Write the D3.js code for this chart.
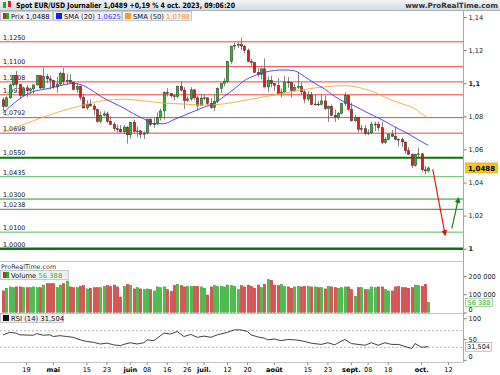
<!DOCTYPE html>
<html>
<head>
<meta charset="utf-8">
<script src="https://cdn.jsdelivr.net/npm/d3@7"></script>
<style>
  body { margin: 0; background: #fff; }
  svg { display: block; font-family: "DejaVu Sans", sans-serif; }
</style>
</head>
<body>
<div id="chart"></div>
<script>
// ---- data (EUR/USD daily) ----
var opens = [1.0900,1.0860,1.0912,1.0990,1.1047,1.0993,1.0926,1.0972,1.0955,1.0966,
  1.0990,1.1046,1.0971,1.1040,1.1026,1.1017,1.0977,1.0995,1.1060,1.1013,
  1.1018,1.1005,1.0961,1.0982,1.0915,1.0850,1.0873,1.0862,1.0841,1.0769,
  1.0805,1.0815,1.0770,1.0750,1.0725,1.0722,1.0706,1.0735,1.0688,1.0764,
  1.0708,1.0712,1.0691,1.0699,1.0782,1.0749,1.0758,1.0793,1.0832,1.0943,
  1.0938,1.0924,1.0919,1.0982,1.0958,1.0895,1.0905,1.0960,1.0912,1.0866,
  1.0910,1.0912,1.0878,1.0853,1.0890,1.0968,1.0999,1.1011,1.1130,1.1224,
  1.1228,1.1235,1.1224,1.1199,1.1131,1.1125,1.1065,1.1053,1.1087,1.0977,
  1.1017,1.0998,1.0986,1.0937,1.0947,1.1007,1.1004,1.0956,1.0975,1.0980,
  1.0948,1.0904,1.0929,1.0871,1.0874,1.0872,1.0893,1.0846,1.0861,1.0806,
  1.0795,1.0817,1.0877,1.0925,1.0842,1.0772,1.0794,1.0721,1.0725,1.0698,
  1.0700,1.0752,1.0753,1.0731,1.0641,1.0660,1.0692,1.0678,1.0661,1.0659,
  1.0645,1.0592,1.0570,1.0503,1.0569,1.0573,1.0477,1.0470];
var highs = [1.0915,1.0922,1.0998,1.1050,1.1075,1.0995,1.0979,1.0988,1.0974,1.0991,
  1.1050,1.1050,1.1095,1.1056,1.1046,1.1020,1.1040,1.1071,1.1092,1.1055,
  1.1055,1.1010,1.1000,1.0985,1.0933,1.0897,1.0903,1.0875,1.0847,1.0829,
  1.0831,1.0828,1.0800,1.0765,1.0750,1.0747,1.0747,1.0738,1.0763,1.0780,
  1.0737,1.0717,1.0709,1.0787,1.0788,1.0790,1.0823,1.0845,1.0951,1.0970,
  1.0940,1.0934,1.0985,1.1012,1.0976,1.0920,1.0976,1.0965,1.0926,1.0934,
  1.0935,1.0913,1.0911,1.0933,1.0975,1.1003,1.1030,1.1135,1.1226,1.1245,
  1.1248,1.1276,1.1231,1.1210,1.1148,1.1128,1.1090,1.1090,1.1150,1.1041,
  1.1045,1.1002,1.1030,1.0968,1.1043,1.1038,1.1007,1.0995,1.1063,1.1003,
  1.0960,1.0952,1.0947,1.0932,1.0894,1.0932,1.0925,1.0865,1.0871,1.0840,
  1.0828,1.0882,1.0945,1.0926,1.0882,1.0810,1.0797,1.0748,1.0746,1.0722,
  1.0767,1.0768,1.0768,1.0768,1.0675,1.0699,1.0718,1.0737,1.0668,1.0671,
  1.0645,1.0615,1.0575,1.0573,1.0610,1.0577,1.0500,1.0497];
var lows = [1.0831,1.0855,1.0904,1.0980,1.0965,1.0910,1.0918,1.0916,1.0935,1.0936,
  1.0985,1.0965,1.0965,1.1000,1.0962,1.0967,1.0942,1.0985,1.0990,1.0990,
  1.1000,1.0956,1.0942,1.0897,1.0849,1.0840,1.0860,1.0806,1.0761,1.0759,
  1.0799,1.0761,1.0746,1.0709,1.0701,1.0702,1.0693,1.0635,1.0665,1.0701,
  1.0676,1.0667,1.0663,1.0692,1.0740,1.0731,1.0749,1.0774,1.0780,1.0920,
  1.0911,1.0896,1.0910,1.0951,1.0844,1.0886,1.0895,1.0899,1.0835,1.0865,
  1.0896,1.0869,1.0845,1.0833,1.0880,1.0940,1.0980,1.1000,1.1117,1.1202,
  1.1212,1.1201,1.1181,1.1128,1.1100,1.1063,1.1035,1.1023,1.0974,1.0945,
  1.0976,1.0954,1.0934,1.0915,1.0942,1.0973,1.0913,1.0949,1.0964,1.0930,
  1.0879,1.0893,1.0868,1.0867,1.0862,1.0866,1.0837,1.0766,1.0801,1.0766,
  1.0780,1.0812,1.0862,1.0834,1.0771,1.0768,1.0705,1.0702,1.0686,1.0686,
  1.0693,1.0710,1.0710,1.0631,1.0632,1.0659,1.0675,1.0655,1.0616,1.0615,
  1.0573,1.0566,1.0488,1.0496,1.0550,1.0466,1.0449,1.0460];
var closes = [1.0860,1.0912,1.0990,1.1047,1.0993,1.0926,1.0972,1.0955,1.0966,1.0990,
  1.1046,1.0971,1.1040,1.1026,1.1017,1.0977,1.0995,1.1060,1.1013,1.1018,
  1.1005,1.0961,1.0982,1.0915,1.0850,1.0873,1.0862,1.0841,1.0769,1.0805,
  1.0815,1.0770,1.0750,1.0725,1.0722,1.0706,1.0735,1.0688,1.0764,1.0708,
  1.0712,1.0691,1.0699,1.0782,1.0749,1.0758,1.0793,1.0832,1.0943,1.0938,
  1.0924,1.0919,1.0982,1.0958,1.0895,1.0905,1.0960,1.0912,1.0866,1.0910,
  1.0912,1.0878,1.0853,1.0890,1.0968,1.0999,1.1011,1.1130,1.1224,1.1228,
  1.1235,1.1224,1.1199,1.1131,1.1125,1.1065,1.1053,1.1087,1.0977,1.1017,
  1.0998,1.0986,1.0937,1.0947,1.1007,1.1004,1.0956,1.0975,1.0980,1.0948,
  1.0904,1.0929,1.0871,1.0874,1.0872,1.0893,1.0846,1.0861,1.0806,1.0795,
  1.0817,1.0877,1.0925,1.0842,1.0772,1.0794,1.0721,1.0725,1.0698,1.0700,
  1.0752,1.0753,1.0731,1.0641,1.0660,1.0692,1.0678,1.0661,1.0659,1.0645,
  1.0592,1.0570,1.0503,1.0569,1.0573,1.0477,1.0470,1.0488];
var volumes = [118,133,140,136,140,140,136,136,136,140,
  136,136,150,158,158,158,136,150,158,172,
  140,136,136,143,147,129,133,136,136,136,
  143,147,143,150,140,85,143,154,150,129,
  136,129,125,129,125,118,140,136,140,125,
  115,147,154,147,140,143,143,143,143,140,
  133,96,140,147,143,143,140,150,147,143,
  125,147,140,150,143,133,150,136,154,180,
  176,150,147,154,143,140,133,140,143,140,
  143,143,140,140,136,136,129,143,140,136,
  133,136,140,140,125,89,136,136,125,125,
  140,136,140,140,125,118,118,140,143,136,
  136,133,136,150,147,143,154,56].map(function (v) { return v * 1000; });

// moving averages, sampled along the curve (candle index -> value)
var sma20Days = [0,3,6,9,12,15,18,21,24,27,30,33,36,39,42,45,48,51,54,57,60,63,66,69,72,75,78,81,84,87,90,93,96,99,102,105,108,111,114,117,120,123,126,127];
var sma20 = [1.0820,1.0875,1.0920,1.0950,1.0962,1.0975,1.0990,1.0999,1.0985,1.0950,1.0910,1.0880,1.0850,1.0815,1.0785,1.0755,1.0755,1.0780,1.0805,1.0830,1.0855,1.0878,1.0920,1.0965,1.1015,1.1045,1.1065,1.1077,1.1080,1.1075,1.1040,1.1000,1.0965,1.0920,1.0885,1.0862,1.0830,1.0800,1.0770,1.0735,1.0705,1.0670,1.0635,1.0625];
var sma50Days = [0,6,12,18,24,30,36,42,48,54,60,66,72,78,84,90,96,102,108,111,114,117,120,123,125,127];
var sma50 = [1.0705,1.0750,1.0795,1.0835,1.0868,1.0895,1.0903,1.0893,1.0880,1.0874,1.0868,1.0875,1.0895,1.0918,1.0940,1.0962,1.0978,1.0985,1.0965,1.0945,1.0915,1.0890,1.0870,1.0845,1.0815,1.0788];

var rsiDays = [0,2,4,5,9,10,12,14,15,17,19,21,23,25,27,29,31,33,35,36,38,40,42,43,45,48,50,52,54,56,58,60,62,64,67,69,71,73,74,76,78,79,81,83,85,87,89,92,95,97,99,102,104,106,108,110,112,114,116,118,120,122,123,125,127];
var rsi = [60,66,64,60,59,63,59,60,56,58,56,54,48,44,42,38,40,36,34,37,41,38,41,48,46,64,62,68,56,61,54,57,54,60,66,72,72,68,60,55,52,48,50,46,49,48,46,40,37,41,36,49,39,37,35,41,35,41,37,37,32,27,39,30,31.5];

// support / resistance levels drawn on the chart
var levels = [1.1250,1.1100,1.1008,1.0930,1.0792,1.0698,1.0550,1.0435,1.0300,1.0238,1.0100,1.0000];

// projection arrows: [start index, start price, end index, end price]
var arrowDown = [128.3, 1.0480, 132.0, 1.0083];
var arrowUp = [134.0, 1.0123, 136.0, 1.0305];

var priceTicks = [1, 1.02, 1.04, 1.06, 1.08, 1.1, 1.12, 1.14];
var volTicks = [0, 100000, 200000];
var rsiTicks = [0, 50, 100];
var tickDates = ["2023-04-19","2023-05-01","2023-05-15","2023-05-23","2023-06-01","2023-06-08","2023-06-16","2023-06-26","2023-07-03","2023-07-12","2023-07-20","2023-08-01","2023-08-15","2023-08-23","2023-09-01","2023-09-08","2023-09-18","2023-10-02","2023-10-12"];
var tickLabels = ["19","mai","15","23","juin","08","16","26","juil.","12","20","août","15","23","sept.","08","18","oct.","12"];

var lastPrice = 1.0488, lastVol = 56388, lastRsi = 31.504;

// ---- layout ----
var W = 500, H = 375, axisX = 463.5;
var fmtDay = d3.timeFormat("%Y-%m-%d");
var days = d3.timeDay.range(new Date(2023, 3, 10), new Date(2023, 9, 14))
  .filter(function (d) { return d.getDay() % 6 !== 0; });
var dayIndex = function (s) { return days.findIndex(function (d) { return fmtDay(d) === s; }); };

var x = d3.scaleLinear().domain([0, 127]).range([3.1, 428.4]);
var y = d3.scaleLinear().domain([1, 1.14]).range([248.7, 17]);
var yVol = d3.scaleLinear().domain([0, 200000]).range([312.5, 275.9]);
var yRsi = d3.scaleLinear().domain([0, 100]).range([359.8, 318.2]);
var comma = function (v, n) { return d3.format("." + n + "f")(v).replace(".", ","); };
var spaced = function (v) { return d3.format(",")(v).replace(/,/g, " "); };

var svg = d3.select("#chart").append("svg").attr("width", W).attr("height", H);
var defs = svg.append("defs");
var hg = defs.append("linearGradient").attr("id", "hdr").attr("x1", 0).attr("y1", 0).attr("x2", 0).attr("y2", 1);
hg.append("stop").attr("offset", "0%").attr("stop-color", "#f3f5f7");
hg.append("stop").attr("offset", "100%").attr("stop-color", "#d5dadf");
defs.append("clipPath").attr("id", "plot").append("rect").attr("x", 0).attr("y", 22).attr("width", axisX).attr("height", 240);
["red", "green"].forEach(function (c) {
  defs.append("marker").attr("id", "arr-" + c).attr("viewBox", "0 0 10 10").attr("refX", 8).attr("refY", 5)
    .attr("markerWidth", 5).attr("markerHeight", 5).attr("orient", "auto")
    .append("path").attr("d", "M0,0L10,5L0,10z").attr("fill", c === "red" ? "#ee1111" : "#118811");
});

// header
svg.append("rect").attr("width", W).attr("height", 10.5).attr("fill", "url(#hdr)");
svg.append("line").attr("x1", 0).attr("x2", W).attr("y1", 10.5).attr("y2", 10.5).attr("stroke", "#a8b0b8");
svg.append("rect").attr("x", 3).attr("y", 2).attr("width", 3).attr("height", 6).attr("fill", "#22aa22");
svg.append("rect").attr("x", 8).attr("y", 1).attr("width", 3).attr("height", 6).attr("fill", "#dd2222");
svg.append("text").attr("x", 16).attr("y", 8.3).attr("font-size", 7.4).attr("font-weight", "bold")
  .attr("textLength", 219).attr("lengthAdjust", "spacingAndGlyphs")
  .text("Spot EUR/USD Journalier 1,0489 +0,19 % 4 oct. 2023, 09:06:20");
svg.append("text").attr("x", 498).attr("y", 8.3).attr("text-anchor", "end").attr("font-size", 7.2)
  .attr("font-weight", "bold").attr("fill", "#333").text("www.ProRealTime.com");

// legend boxes
function legendBox(x0, w, yTop, icon, parts) {
  var g = svg.append("g");
  g.append("rect").attr("x", x0 + 0.5).attr("y", yTop + 0.5).attr("width", w).attr("height", 9)
    .attr("fill", "#eef0f2").attr("stroke", "#b8bec4").attr("stroke-width", 0.8);
  icon(g, x0 + 3, yTop + 2);
  var t = g.append("text").attr("x", x0 + 11).attr("y", yTop + 7.7).attr("font-size", 6.8);
  parts.forEach(function (p) { t.append("tspan").attr("fill", p[1]).text(p[0]); });
}
function twoColor(g, x0, y0) {
  g.append("rect").attr("x", x0).attr("y", y0).attr("width", 3).attr("height", 6).attr("fill", "#dd2222");
  g.append("rect").attr("x", x0 + 3).attr("y", y0).attr("width", 3).attr("height", 6).attr("fill", "#22aa22");
}
function square(c) {
  return function (g, x0, y0) { g.append("rect").attr("x", x0).attr("y", y0).attr("width", 6).attr("height", 6).attr("fill", c); };
}
legendBox(0, 52, 11, twoColor, [["Prix ", "#111"], [comma(lastPrice, 4), "#111"]]);
legendBox(53, 68, 11, square("#1a1aff"), [["SMA (20) ", "#111"], [comma(sma20[sma20.length - 1], 4), "#3333ff"]]);
legendBox(122, 69, 11, square("#f5a020"), [["SMA (50) ", "#111"], [comma(sma50[sma50.length - 1], 4), "#f0a030"]]);

// price panel
var plot = svg.append("g").attr("clip-path", "url(#plot)");
function levelColor(v) {
  if (v > 1.06) return "#ee4444";
  if (v === 1.055 || v === 1) return "#0c760c";
  if (v === 1.0435 || v === 1.01) return "#5cb85c";
  return "#2e8b2e";
}
function levelWidth(v) { return v === 1 ? 2.6 : v === 1.055 ? 2 : 1; }

plot.selectAll(".lvl-label").data(levels).enter().append("text")
  .attr("x", 3).attr("y", function (d) { return y(d) - 2.2; })
  .attr("font-size", 6.4).attr("fill", "#111")
  .text(function (d) { return comma(d, 4); });
plot.selectAll(".lvl").data(levels).enter().append("line")
  .attr("x1", 0).attr("x2", axisX).attr("y1", function (d) { return y(d); }).attr("y2", function (d) { return y(d); })
  .attr("stroke", levelColor).attr("stroke-width", levelWidth);

var idx = d3.range(closes.length);
plot.selectAll(".wick").data(idx).enter().append("line")
  .attr("x1", function (i) { return Math.round(x(i)) + 0.5; }).attr("x2", function (i) { return Math.round(x(i)) + 0.5; })
  .attr("y1", function (i) { return y(highs[i]); }).attr("y2", function (i) { return y(lows[i]); })
  .attr("stroke", "#666").attr("stroke-width", 0.8);
plot.selectAll(".body").data(idx).enter().append("rect")
  .attr("x", function (i) { return Math.round(x(i)) - 0.7; }).attr("width", 2.4)
  .attr("y", function (i) { return y(Math.max(opens[i], closes[i])); })
  .attr("height", function (i) { return Math.max(0.8, Math.abs(y(opens[i]) - y(closes[i]))); })
  .attr("fill", function (i) { return closes[i] >= opens[i] ? "#22bb22" : "#e01c1c"; })
  .attr("stroke", "#333").attr("stroke-width", 0.5);

var line = d3.line().curve(d3.curveMonotoneX);
plot.append("path").attr("d", line(sma50Days.map(function (d, i) { return [x(d), y(sma50[i])]; })))
  .attr("fill", "none").attr("stroke", "#f7a733").attr("stroke-width", 0.9);
plot.append("path").attr("d", line(sma20Days.map(function (d, i) { return [x(d), y(sma20[i])]; })))
  .attr("fill", "none").attr("stroke", "#3a3aee").attr("stroke-width", 0.9);

plot.append("line").attr("x1", x(arrowDown[0])).attr("y1", y(arrowDown[1])).attr("x2", x(arrowDown[2])).attr("y2", y(arrowDown[3]))
  .attr("stroke", "#ee1111").attr("stroke-width", 1.2).attr("marker-end", "url(#arr-red)");
plot.append("line").attr("x1", x(arrowUp[0])).attr("y1", y(arrowUp[1])).attr("x2", x(arrowUp[2])).attr("y2", y(arrowUp[3]))
  .attr("stroke", "#118811").attr("stroke-width", 1.2).attr("marker-end", "url(#arr-green)");

// right axes
function styleAxis(g, boldVals) {
  g.select(".domain").remove();
  g.selectAll(".tick line").attr("stroke", "#777");
  g.selectAll(".tick text").attr("font-size", 6.6).attr("fill", "#222").attr("font-family", "DejaVu Sans")
    .attr("font-weight", function (d) { return boldVals.indexOf(d) >= 0 ? "bold" : null; });
}
// the bottom label of each lower panel sits a little inside the panel
function liftZero(g) {
  g.selectAll(".tick text").filter(function (d) { return d === 0; }).attr("y", -3.2);
}
svg.append("g").attr("transform", "translate(" + axisX + ",0)")
  .call(d3.axisRight(y).tickValues(priceTicks).tickSize(3).tickPadding(2)
    .tickFormat(function (d) { return d3.format("~g")(d).replace(".", ","); }))
  .call(styleAxis, [1, 1.1]);
svg.append("g").attr("transform", "translate(" + axisX + ",0)")
  .call(d3.axisRight(yVol).tickValues(volTicks).tickSize(3).tickPadding(2).tickFormat(spaced))
  .call(styleAxis, []).call(liftZero);
svg.append("g").attr("transform", "translate(" + axisX + ",0)")
  .call(d3.axisRight(yRsi).tickValues(rsiTicks).tickSize(3).tickPadding(2))
  .call(styleAxis, []).call(liftZero);

svg.append("line").attr("x1", axisX).attr("x2", axisX).attr("y1", 11).attr("y2", 362).attr("stroke", "#a0a8b0");

// last price tag
svg.append("rect").attr("x", 465.5).attr("y", y(lastPrice) - 5).attr("width", 32).attr("height", 10)
  .attr("fill", "#f5c518").attr("stroke", "#c89a00").attr("stroke-width", 0.5);
svg.append("text").attr("x", 481.5).attr("y", y(lastPrice) + 2.6).attr("text-anchor", "middle")
  .attr("font-size", 7).attr("font-weight", "bold").text(comma(lastPrice, 4));

// volume panel
svg.append("line").attr("x1", 0).attr("x2", axisX).attr("y1", 261.5).attr("y2", 261.5).attr("stroke", "#c0c6cc");
svg.append("text").attr("x", 1).attr("y", 268.5).attr("font-size", 6.4).attr("fill", "#333").text("ProRealTime.com");
svg.selectAll(".vol").data(idx).enter().append("rect")
  .attr("x", function (i) { return Math.round(x(i)) - 0.7; }).attr("width", 2.4)
  .attr("y", function (i) { return yVol(volumes[i]); })
  .attr("height", function (i) { return yVol(0) - yVol(volumes[i]); })
  .attr("fill", function (i) { return closes[i] >= opens[i] ? "#44c444" : "#e05050"; })
  .attr("stroke", function (i) { return closes[i] >= opens[i] ? "#1f8a1f" : "#a82020"; })
  .attr("stroke-width", 0.4);
legendBox(0, 68, 270, twoColor, [["Volume ", "#111"], [spaced(lastVol), "#33bb33"]]);
svg.append("rect").attr("x", 465.5).attr("y", yVol(lastVol) - 4).attr("width", 27).attr("height", 8.5)
  .attr("fill", "#f4fbf4").attr("stroke", "#66bb66").attr("stroke-width", 0.6);
svg.append("text").attr("x", 479).attr("y", yVol(lastVol) + 2.5).attr("text-anchor", "middle")
  .attr("font-size", 6.6).attr("fill", "#33aa33").text(spaced(lastVol));

// rsi panel
svg.append("line").attr("x1", 0).attr("x2", axisX).attr("y1", 313.5).attr("y2", 313.5).attr("stroke", "#c0c6cc");
svg.selectAll(".rsi-ref").data([70, 30]).enter().append("line")
  .attr("x1", 0).attr("x2", axisX).attr("y1", function (d) { return yRsi(d); }).attr("y2", function (d) { return yRsi(d); })
  .attr("stroke", "#999").attr("stroke-width", 0.7).attr("stroke-dasharray", "2,2");
svg.append("path").attr("d", d3.line()(rsiDays.map(function (d, i) { return [x(d), yRsi(rsi[i])]; })))
  .attr("fill", "none").attr("stroke", "#111").attr("stroke-width", 0.8);
legendBox(0, 63, 313, square("#111"), [["RSI (14) " + comma(lastRsi, 3), "#111"]]);
svg.append("rect").attr("x", 465.5).attr("y", yRsi(lastRsi) - 4).attr("width", 26).attr("height", 8.5)
  .attr("fill", "#fff").attr("stroke", "#999").attr("stroke-width", 0.6);
svg.append("text").attr("x", 478.5).attr("y", yRsi(lastRsi) + 2.5).attr("text-anchor", "middle")
  .attr("font-size", 6.6).attr("fill", "#222").text(comma(lastRsi, 3));

// date axis
svg.append("line").attr("x1", 0).attr("x2", axisX).attr("y1", 362.5).attr("y2", 362.5).attr("stroke", "#c0c6cc");
var xt = svg.append("g").selectAll("g").data(tickDates).enter().append("g")
  .attr("transform", function (d) { return "translate(" + x(dayIndex(d)) + ",0)"; });
xt.append("line").attr("y1", 362.5).attr("y2", 365).attr("stroke", "#888");
xt.append("text").attr("y", 371.5).attr("text-anchor", "middle").attr("font-size", 6.6)
  .attr("font-weight", function (d, i) { return isNaN(+tickLabels[i]) ? "bold" : null; })
  .text(function (d, i) { return tickLabels[i]; });
</script>
</body>
</html>
